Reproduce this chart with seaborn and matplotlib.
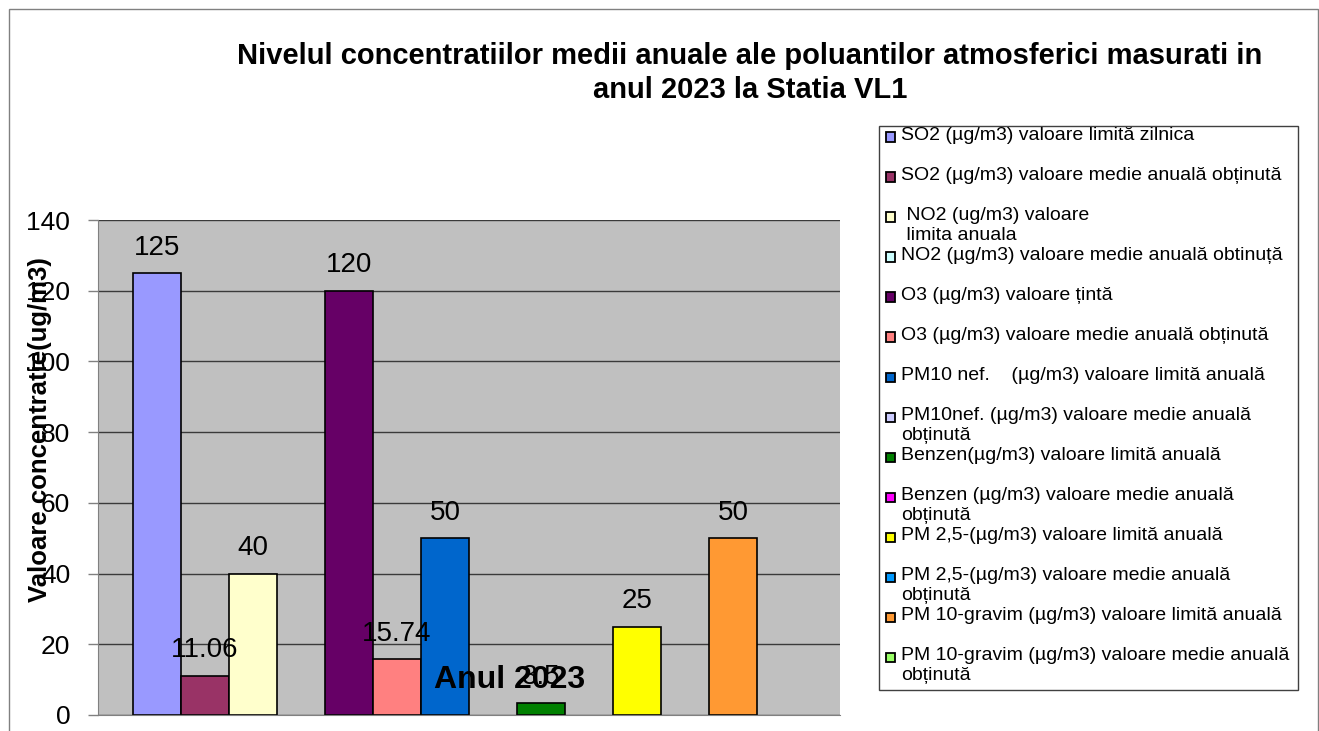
import numpy as np
import pandas as pd
import seaborn as sns
import matplotlib.pyplot as plt
from matplotlib.patches import Rectangle

sns.set_style('white')
plt.rcParams['font.family'] = ['Liberation Sans', 'DejaVu Sans']
plt.rcParams['text.color'] = 'black'
plt.rcParams['ytick.labelcolor'] = 'black'

# data
categorie = 'Anul 2023'
serii = [
    'SO2 (µg/m3) valoare limită zilnica',
    'SO2 (µg/m3) valoare medie anuală obținută',
    ' NO2 (ug/m3) valoare\n limita anuala',
    'NO2 (µg/m3) valoare medie anuală obtinuță',
    'O3 (µg/m3) valoare țintă',
    'O3 (µg/m3) valoare medie anuală obținută',
    'PM10 nef.    (µg/m3) valoare limită anuală',
    'PM10nef. (µg/m3) valoare medie anuală\nobținută',
    'Benzen(µg/m3) valoare limită anuală',
    'Benzen (µg/m3) valoare medie anuală\nobținută',
    'PM 2,5-(µg/m3) valoare limită anuală',
    'PM 2,5-(µg/m3) valoare medie anuală\nobținută',
    'PM 10-gravim (µg/m3) valoare limită anuală',
    'PM 10-gravim (µg/m3) valoare medie anuală\nobținută',
]
valori = [125, 11.06, 40, np.nan, 120, 15.74, 50, np.nan, 3.5, np.nan, 25, np.nan, 50, np.nan]
culori = ['#9999FF', '#993366', '#FFFFCC', '#CCFFFF', '#660066', '#FF8080', '#0066CC',
          '#CCCCFF', '#008000', '#FF00FF', '#FFFF00', '#0099FF', '#FF9933', '#99FF66']

df = pd.DataFrame({'an': categorie, 'serie': serii, 'valoare': valori})

W, H = 1319, 731
fig = plt.figure(figsize=(W / 100, H / 100), dpi=100)
ax = fig.add_axes([98 / W, 1 - 715 / H, 742 / W, 495 / H])

sns.barplot(data=df, x='an', y='valoare', hue='serie', hue_order=serii,
            palette=dict(zip(serii, culori)), saturation=1, width=0.906,
            edgecolor='black', linewidth=1.2, legend=False, ax=ax)

for c in ax.containers:
    ax.bar_label(c, fmt='{:g}', padding=9, fontsize=20, color='black')

ax.set_facecolor('#C0C0C0')
ax.set_ylim(0, 140)
ax.set_yticks(range(0, 141, 20))
ax.yaxis.grid(True, color='#3a3a3a', linewidth=1)
ax.set_axisbelow(True)
ax.tick_params(axis='y', labelsize=19, length=7, width=1, color='#808080', pad=13, left=True)
ax.set_xticks([])
ax.set_xlabel('')
ax.set_ylabel('')
for s in ['top', 'right']:
    ax.spines[s].set_visible(False)
for s in ['left', 'bottom']:
    ax.spines[s].set_color('#808080')

ax.text((510 - 98) / 742, (715 - 680) / 495, categorie, transform=ax.transAxes,
        ha='center', va='center', fontsize=23, fontweight='bold')

fig.text(40 / W, 1 - 430 / H, 'Valoare concentratie(ug/m3)', rotation=90,
         ha='center', va='center', fontsize=18.5, fontweight='bold')

fig.text(750 / W, 1 - 73 / H,
         'Nivelul concentratiilor medii anuale ale poluantilor atmosferici masurati in\nanul 2023 la Statia VL1',
         ha='center', va='center', fontsize=21, fontweight='bold', multialignment='center',
         linespacing=1.25)

# outer chart border
fig.patches.append(Rectangle((9 / W, -0.1), (W - 10) / W, 1.1 - 9 / H, transform=fig.transFigure,
                             fill=False, edgecolor='#808080', linewidth=1))

# legend box
fig.patches.append(Rectangle((879 / W, 1 - 690 / H), 419 / W, 564 / H, transform=fig.transFigure,
                             facecolor='white', edgecolor='#404040', linewidth=1))
for i, (lab, col) in enumerate(zip(serii, culori)):
    yc = 137 + 40 * i
    fig.patches.append(Rectangle((886 / W, 1 - (yc + 4.5) / H), 9 / W, 9 / H,
                                 transform=fig.transFigure, facecolor=col,
                                 edgecolor='black', linewidth=1.3))
    fig.text(901 / W, 1 - (yc - 10) / H, lab, ha='left', va='top', fontsize=14,
             linespacing=1.25)

fig.savefig('out.png', dpi=100)
